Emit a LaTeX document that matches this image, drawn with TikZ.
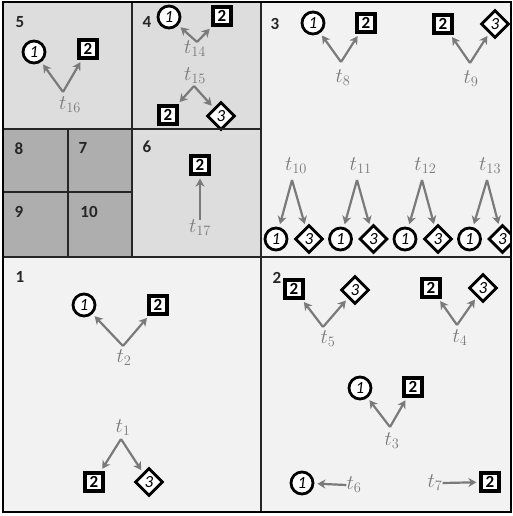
\documentclass[tikz,border=0pt]{standalone}
\usepackage{fontspec}
\setsansfont{Carlito}
\usetikzlibrary{shapes.geometric, arrows.meta}
\definecolor{paneLight}{HTML}{F2F2F2}
\definecolor{paneMid}{HTML}{DDDDDD}
\definecolor{paneDark}{HTML}{AEAEAE}
\definecolor{tgray}{HTML}{7A7A7A}

\tikzset{
    cellno/.style={font=\sffamily\bfseries\fontsize{17}{19}\selectfont, text=black!85, inner sep=0pt},
    opone/.style={circle, draw, fill=white, line width=2.8pt, minimum size=22pt, inner sep=0pt,
        font=\sffamily\itshape\fontsize{17}{18}\selectfont},
    optwo/.style={rectangle, draw, fill=white, line width=3.2pt, minimum size=18pt, inner sep=0pt,
        font=\sffamily\bfseries\fontsize{17}{18}\selectfont},
    opthree/.style={diamond, draw, fill=white, line width=2.8pt, minimum size=28pt, inner sep=0pt,
        font=\sffamily\itshape\fontsize{17}{18}\selectfont},
    tlab/.style={text=tgray, font=\fontsize{21}{24}\selectfont, inner sep=0pt},
    move/.style={draw=tgray, line width=2.2pt, -{Stealth[length=8pt,width=9pt,inset=2.5pt]}, shorten >=3pt},
    divider/.style={line width=1.5pt, black!85},
}

\begin{document}
\begin{tikzpicture}[x=1pt, y=-1pt]
    \useasboundingbox (0,0) rectangle (513,516);

    % panes
    \fill[paneMid] (3,2) rectangle (261,257);
    \fill[paneDark] (3,129) rectangle (132,257);
    \fill[paneLight] (261,2) rectangle (511,512);
    \fill[paneLight] (3,257) rectangle (261,512);

    % cell 5
    \node[cellno] (n5) at (20,22) {5};
    \node[opone] (a16) at (34,52) {1};
    \node[optwo] (b16) at (88,49) {2};
    \node[tlab] (t16) at (70,105) {$t_{16}$};
    \coordinate (v16) at (63,92);
    \draw[move] (v16) -- (a16);
    \draw[move] (v16) -- (b16);

    % cell 4
    \node[cellno] (n4) at (147,22) {4};
    \node[opone] (a14) at (169,17) {1};
    \node[optwo] (b14) at (222,16) {2};
    \node[tlab] (t14) at (195,49) {$t_{14}$};
    \coordinate (v14) at (197,42);
    \draw[move] (v14) -- (a14);
    \draw[move] (v14) -- (b14);
    \node[tlab] (t15) at (195,76) {$t_{15}$};
    \node[optwo] (b15) at (168,115) {2};
    \node[opthree] (c15) at (221,116) {3};
    \coordinate (v15) at (194,86);
    \draw[move] (v15) -- (b15);
    \draw[move] (v15) -- (c15);

    % cell 6
    \node[cellno] (n6) at (147,147) {6};
    \node[optwo] (b17) at (200,165) {2};
    \node[tlab] (t17) at (200,228) {$t_{17}$};
    \draw[move] (t17.north) -- (b17);

    % cells 7 to 10
    \node[cellno] (n8) at (19,149) {8};
    \node[cellno] (n7) at (83,148) {7};
    \node[cellno] (n9) at (19,212) {9};
    \node[cellno] (n10) at (89,212) {10};

    % cell 3
    \node[cellno] (n3) at (275,24) {3};
    \node[opone] (a8) at (313,23) {1};
    \node[optwo] (b8) at (366,23) {2};
    \node[tlab] (t8) at (343,78) {$t_{8}$};
    \coordinate (v8) at (341,62);
    \draw[move] (v8) -- (a8);
    \draw[move] (v8) -- (b8);
    \node[optwo] (b9) at (443,24) {2};
    \node[opthree] (c9) at (495,24) {3};
    \node[tlab] (t9) at (471,79) {$t_{9}$};
    \coordinate (v9) at (470,63);
    \draw[move] (v9) -- (b9);
    \draw[move] (v9) -- (c9);
    \begin{scope}
        \clip (261,2) rectangle (511,257);
        \foreach \k [count=\i from 0] in {10,...,13} {
            \node[opone] (a\k) at (276+64.5*\i,239) {1};
            \node[opthree] (c\k) at (309+64.5*\i,239) {3};
            \node[tlab] (t\k) at (296+64.7*\i,166) {$t_{\k}$};
            \coordinate (v\k) at (292+65*\i,180);
            \draw[move] (v\k) -- (a\k);
            \draw[move] (v\k) -- (c\k);
        }
    \end{scope}

    % cell 1
    \node[cellno] (n1) at (20,277) {1};
    \node[opone] (a2) at (84,305) {1};
    \node[optwo] (b2) at (158,305) {2};
    \node[tlab] (t2) at (124,358) {$t_{2}$};
    \coordinate (v2) at (123,346);
    \draw[move] (v2) -- (a2);
    \draw[move] (v2) -- (b2);
    \node[tlab] (t1) at (123,428) {$t_{1}$};
    \node[optwo] (b1) at (94,482) {2};
    \node[opthree] (c1) at (149,482) {3};
    \coordinate (v1) at (121,439);
    \draw[move] (v1) -- (b1);
    \draw[move] (v1) -- (c1);

    % cell 2
    \node[cellno] (n2) at (277,278) {2};
    \node[optwo] (b5) at (294,289) {2};
    \node[opthree] (c5) at (355,290) {3};
    \node[tlab] (t5) at (328,339) {$t_{5}$};
    \coordinate (v5) at (323,327);
    \draw[move] (v5) -- (b5);
    \draw[move] (v5) -- (c5);
    \node[optwo] (b4) at (431,288) {2};
    \node[opthree] (c4) at (483,288) {3};
    \node[tlab] (t4) at (460,338) {$t_{4}$};
    \coordinate (v4) at (457,325);
    \draw[move] (v4) -- (b4);
    \draw[move] (v4) -- (c4);
    \node[opone] (a3) at (360,388) {1};
    \node[optwo] (b3) at (413,387) {2};
    \node[tlab] (t3) at (392,441) {$t_{3}$};
    \coordinate (v3) at (390,427);
    \draw[move] (v3) -- (a3);
    \draw[move] (v3) -- (b3);
    \node[opone] (a6) at (302,483) {1};
    \node[tlab] (t6) at (354,485) {$t_{6}$};
    \draw[move] (t6.west) -- (a6);
    \node[optwo] (b7) at (490,482) {2};
    \node[tlab] (t7) at (435,483) {$t_{7}$};
    \draw[move] (t7.east) -- (b7);

    % dividers
    \draw[divider] (261,2) -- (261,512);
    \draw[divider] (3,257) -- (511,257);
    \draw[divider] (132,2) -- (132,257);
    \draw[divider] (3,129) -- (261,129);
    \draw[divider] (68,129) -- (68,257);
    \draw[divider] (3,192) -- (132,192);
    \draw[line width=1.6pt] (3,2) rectangle (511,512);
\end{tikzpicture}
\end{document}
